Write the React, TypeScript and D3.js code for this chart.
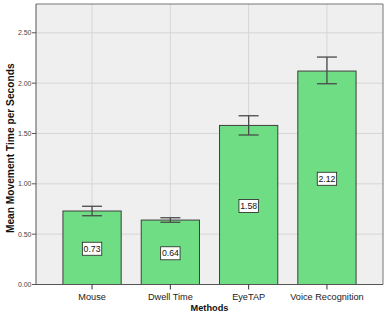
import React from 'react';
import { scaleBand, scaleLinear } from 'd3';

const methods = ['Mouse', 'Dwell Time', 'EyeTAP', 'Voice Recognition'];
const means = [0.73, 0.64, 1.58, 2.12];
const lower = [0.683, 0.618, 1.485, 1.994];
const upper = [0.777, 0.663, 1.676, 2.259];
const yTicks = [0, 0.5, 1.0, 1.5, 2.0, 2.5];

const W = 391;
const H = 317;
const margin = { top: 4, right: 8, bottom: 32.5, left: 36 };

export default function App() {
  const x = scaleBand<string>()
    .domain(methods)
    .range([margin.left, W - margin.right])
    .paddingInner(0.256)
    .paddingOuter(0.344);
  const y = scaleLinear()
    .domain([0, 2.786])
    .range([H - margin.bottom, margin.top]);

  const left = margin.left;
  const right = W - margin.right;
  const top = margin.top;
  const bottom = H - margin.bottom;
  const font = 'Arial, "Liberation Sans", sans-serif';

  return (
    <svg width={W} height={H} style={{ position: 'absolute', left: 0, top: 0 }} fontFamily={font}>
      <rect x={0} y={0} width={W} height={H} fill="#fff" />
      <rect x={left} y={top} width={right - left} height={bottom - top} fill="#efefef" />
      {/* grid */}
      {yTicks.map((t) => (
        <line key={'gy' + t} x1={left} x2={right} y1={y(t)} y2={y(t)} stroke="#d6d6d6" strokeWidth={1} />
      ))}
      {methods.map((m) => {
        const cx = x(m)! + x.bandwidth() / 2;
        return <line key={'gx' + m} x1={cx} x2={cx} y1={top} y2={bottom} stroke="#d6d6d6" strokeWidth={1} />;
      })}
      {/* bars */}
      {methods.map((m, i) => (
        <rect
          key={'b' + m}
          x={x(m)!}
          y={y(means[i])}
          width={x.bandwidth()}
          height={bottom - y(means[i])}
          fill="#6fdd84"
          stroke="#3e3e3e"
          strokeWidth={1}
        />
      ))}
      {/* error bars */}
      {methods.map((m, i) => {
        const cx = x(m)! + x.bandwidth() / 2;
        return (
          <g key={'e' + m} stroke="#4a4a4a" strokeWidth={1.3}>
            <line x1={cx} x2={cx} y1={y(upper[i])} y2={y(lower[i])} />
            <line x1={cx - 10} x2={cx + 10} y1={y(upper[i])} y2={y(upper[i])} />
            <line x1={cx - 10} x2={cx + 10} y1={y(lower[i])} y2={y(lower[i])} />
          </g>
        );
      })}
      {/* value labels */}
      {methods.map((m, i) => {
        const cx = x(m)! + x.bandwidth() / 2;
        const cy = (y(means[i]) + bottom) / 2 + 1;
        return (
          <g key={'l' + m}>
            <rect x={cx - 9.7} y={cy - 6.5} width={19.4} height={13} fill="#fff" stroke="#222" strokeWidth={0.8} />
            <text x={cx} y={cy + 3} textAnchor="middle" fontSize={8.7} fill="#111">
              {means[i].toFixed(2)}
            </text>
          </g>
        );
      })}
      {/* frame */}
      <line x1={left} x2={right} y1={top} y2={top} stroke="#777" strokeWidth={1} />
      <line x1={right} x2={right} y1={top} y2={bottom} stroke="#777" strokeWidth={1} />
      <line x1={left} x2={left} y1={top} y2={bottom} stroke="#555" strokeWidth={1} />
      <line x1={left} x2={right} y1={bottom} y2={bottom} stroke="#555" strokeWidth={1} />
      {/* y axis */}
      {yTicks.map((t) => (
        <g key={'yt' + t}>
          <line x1={left - 4} x2={left} y1={y(t)} y2={y(t)} stroke="#555" />
          <text x={left - 4.5} y={y(t) + 2.5} textAnchor="end" fontSize={7} fill="#444">
            {t.toFixed(2)}
          </text>
        </g>
      ))}
      {/* x axis */}
      {methods.map((m) => {
        const cx = x(m)! + x.bandwidth() / 2;
        return (
          <g key={'xt' + m}>
            <line x1={cx} x2={cx} y1={bottom} y2={bottom + 5} stroke="#333" />
            <text x={cx} y={bottom + 15} textAnchor="middle" fontSize={9.2} fill="#222">
              {m}
            </text>
          </g>
        );
      })}
      <text x={(left + right) / 2} y={311} textAnchor="middle" fontSize={9.2} fontWeight="bold" fill="#111">
        Methods
      </text>
      <text
        transform={`translate(14, ${(top + bottom) / 2 + 4}) rotate(-90)`}
        textAnchor="middle"
        fontSize={10.2}
        fontWeight="bold"
        fill="#111"
      >
        Mean Movement Time per Seconds
      </text>
    </svg>
  );
}
